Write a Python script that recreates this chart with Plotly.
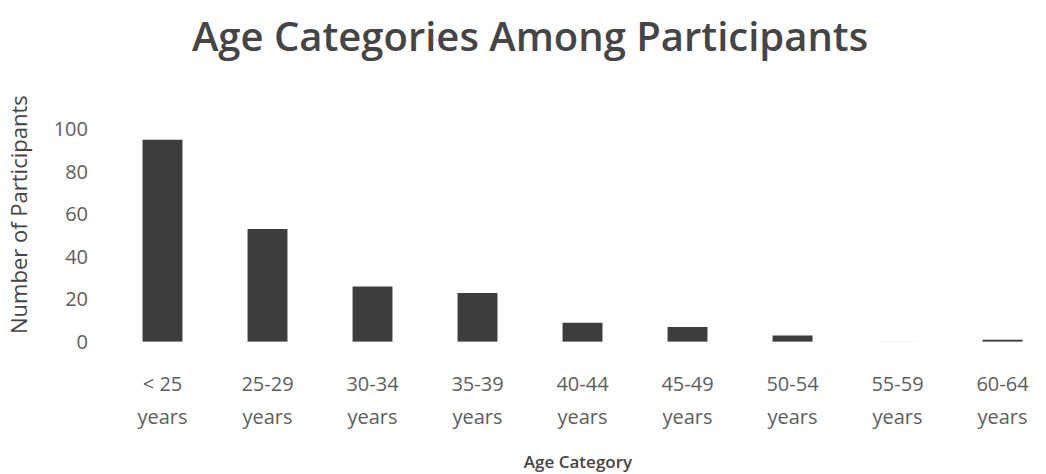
import plotly.graph_objects as go

# Participant counts per age bracket
age_ranges = ["< 25", "25-29", "30-34", "35-39", "40-44", "45-49", "50-54", "55-59", "60-64"]
unit_label = "years"
participants = [95, 53, 26, 23, 9, 7, 3, 0, 1]
y_ticks = [0, 20, 40, 60, 80, 100]

FONT = "Open Sans"
BAR_COLOR = "#3d3d3d"
TICK_COLOR = "#5e5e5e"
TITLE_COLOR = "#454545"

fig = go.Figure()
fig.add_trace(go.Bar(
    x=age_ranges,
    y=participants,
    marker=dict(color=BAR_COLOR, line=dict(width=0)),
    showlegend=False,
))

x_range = [-0.5, 8.414]

fig.update_layout(
    width=1046,
    height=474,
    margin=dict(l=110, r=0, t=0, b=0, autoexpand=False),
    paper_bgcolor="white",
    plot_bgcolor="white",
    bargap=0.62,
    title=dict(
        text="Age Categories Among Participants",
        x=530 / 1046, xref="container", xanchor="center",
        y=0.922, yref="container", yanchor="middle",
        font=dict(family=FONT, size=40, color=TITLE_COLOR, weight=600),
    ),
    xaxis=dict(
        type="category",
        categoryarray=age_ranges,
        range=x_range,
        automargin=False,
        showgrid=False, zeroline=False, showline=False,
        ticks="",
        ticklabelstandoff=28,
        tickfont=dict(family=FONT, size=20, color=TICK_COLOR),
    ),
    xaxis2=dict(
        type="category",
        categoryarray=age_ranges,
        tickvals=age_ranges,
        ticktext=[unit_label] * len(age_ranges),
        range=x_range,
        overlaying="x",
        anchor="y",
        side="bottom",
        automargin=False,
        showgrid=False, zeroline=False, showline=False,
        ticks="",
        ticklabelstandoff=61,
        tickfont=dict(family=FONT, size=20, color=TICK_COLOR),
        title=dict(
            text="Age Category",
            standoff=27,
            font=dict(family=FONT, size=17, color=TITLE_COLOR, weight=600),
        ),
    ),
    yaxis=dict(
        domain=[(474 - 342) / 474, (474 - 129) / 474],
        range=[0, 100],
        tickvals=y_ticks,
        automargin=False,
        showgrid=False, zeroline=False, showline=False,
        ticks="",
        ticklabelstandoff=21,
        tickfont=dict(family=FONT, size=20, color=TICK_COLOR),
    ),
    annotations=[dict(
        text="Number of Participants",
        textangle=-90,
        xref="paper", yref="paper",
        x=0, xshift=-92, xanchor="center",
        y=(474 - 215) / 474, yanchor="middle",
        showarrow=False,
        font=dict(family=FONT, size=22, color=TITLE_COLOR, weight=500),
    )],
)

# invisible trace so the second category axis is laid out with the same categories
fig.add_trace(go.Bar(
    x=age_ranges, y=[0] * len(age_ranges), xaxis="x2",
    marker=dict(color="rgba(0,0,0,0)"), showlegend=False, hoverinfo="skip",
))

fig.write_html("out.html")
